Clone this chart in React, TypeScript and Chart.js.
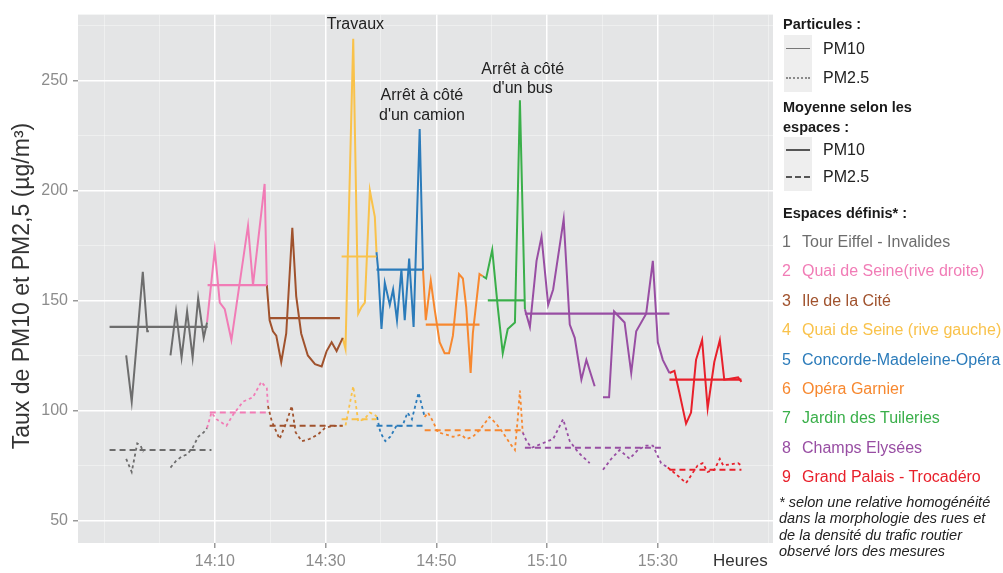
import React, { useEffect, useRef } from 'react';
import { Chart, registerables } from 'chart.js';

Chart.register(...registerables);

type P = [number, number | null];

// time = minutes after 14:00
const spaceNames = [
  'Tour Eiffel - Invalides',
  'Quai de Seine(rive droite)',
  'Ile de la Cité',
  'Quai de Seine (rive gauche)',
  'Concorde-Madeleine-Opéra',
  'Opéra Garnier',
  'Jardin des Tuileries',
  'Champs Elysées',
  'Grand Palais - Trocadéro',
];
const spaceColors = ['#6d6d6d', '#f17cb6', '#a0522d', '#f9c24b', '#2b7bba', '#f7882f', '#3aaf4a', '#984ea3', '#e8202b'];

const eiffelPM10: P[] = [[-6, 125], [-5, 104], [-3, 163], [-2.2, 136], [-1.9, 136], [0, null], [2, 125], [3, 145], [4, 124], [5, 145], [6, 124], [7, 151], [8, 133], [8.6, 140]];
const quaiDroitePM10: P[] = [[8.6, 140], [10, 173], [10.9, 149], [11.8, 146], [13, 132], [16, 184], [16.9, 157], [19, 203], [19.4, 157]];
const citePM10: P[] = [[19.4, 157], [19.9, 141], [20.5, 136], [21.1, 134], [22, 122], [22.9, 135], [24, 183], [24.7, 152], [25.6, 135], [26.8, 125], [28.1, 121], [29.3, 120], [30.2, 127], [31.1, 131], [32, 127], [33.1, 133]];
const quaiGauchePM10: P[] = [[33.1, 133], [33.6, 128], [35, 269], [35.9, 144], [36.5, 147], [37.1, 149], [38, 200], [38.9, 188], [39.2, 172]];
const concordePM10: P[] = [[39.2, 172], [39.5, 164], [40.1, 137], [40.7, 158], [41.6, 148], [42.2, 155], [42.9, 141], [43.7, 164], [44.3, 141], [45.1, 169], [45.9, 138], [47, 228], [47.6, 164]];
const garnierPM10: P[] = [[47.6, 164], [48.1, 141], [49, 159], [49.7, 146], [50.6, 131], [51.5, 126], [52.3, 126], [53, 134], [54.1, 162], [54.8, 160], [55.4, 147], [56.2, 117], [56.6, 135], [57.8, 162], [58.4, 161]];
const tuileriesPM10: P[] = [[58.4, 161], [59, 160], [60.1, 173], [61.1, 147], [62, 126], [62.9, 137], [64.2, 140], [65.1, 241], [66, 146]];
const elyseesPM10: P[] = [[66, 146], [66.9, 138], [68.1, 168], [69, 179], [70.2, 148], [71.1, 155], [73, 187], [74.1, 139], [75, 133], [76.2, 114], [77.1, 123], [78.6, 111], [79.3, null], [80.1, 106], [81.2, 106], [82.1, 145], [84, 140], [85.2, 117], [86.1, 136], [87.9, 144], [89.1, 168], [90, 131], [90.9, 123], [92.1, 117]];
const trocaderoPM10: P[] = [[92.1, 117], [93, 118], [93.9, 108], [95.1, 94], [96, 99], [96.9, 123], [98, 132], [99, 101], [100.2, 122], [101.2, 132], [102, 114], [104.5, 115], [105.1, 113]];

const eiffelPM25: P[] = [[-6, 78], [-5, 72], [-4, 85], [-3.4, 84], [-2.9, 81], [0, null], [2, 74], [3, 77], [4, 79], [5, 80], [6, 83], [7, 88], [8, 90], [8.6, 92]];
const quaiDroitePM25: P[] = [[8.6, 92], [9.4, 99], [10.3, 96], [12.1, 93], [13.3, 98], [15.1, 104], [16.9, 106], [18.4, 113], [19.4, 110], [19.6, 102]];
const citePM25: P[] = [[19.6, 102], [20.3, 95], [21.7, 87], [23, 95], [23.9, 102], [24.6, 90], [25.7, 86], [27.1, 87], [28.6, 89], [29.9, 92], [31.3, 93], [32.6, 93]];
const quaiGauchePM25: P[] = [[32.6, 93], [33.6, 93], [35, 111], [35.9, 95], [37, 96], [38, 99], [38.9, 98], [39.3, 97]];
const concordePM25: P[] = [[39.3, 97], [39.9, 90], [40.8, 86], [41.7, 88], [42.8, 93], [43.9, 93], [44.8, 99], [45.6, 96], [46.8, 108], [47.4, 102], [47.9, 97]];
const garnierPM25: P[] = [[47.9, 97], [48.5, 99], [49.4, 95], [50.3, 90], [51.8, 89], [53, 88], [54.5, 89], [55.4, 87], [56.6, 88], [57.8, 91], [59.6, 97], [60.8, 94], [62, 90], [63.3, 85], [64.2, 82], [64.7, 96], [65.1, 109], [65.6, 90]];
const tuileriesPM25: P[] = [];
const elyseesPM25: P[] = [[65.6, 90], [66.3, 86], [67.2, 83], [71.1, 87], [72.9, 96], [74.1, 86], [75.6, 81], [77.7, 76], [79, null], [80.1, 73], [81.6, 78], [83.1, 82], [84.9, 78], [86.4, 82], [87.9, 84], [89.1, 84], [90.6, 76], [91.8, 74]];
const trocaderoPM25: P[] = [[91.8, 74], [93.3, 71], [95.1, 67], [97.2, 75], [98.1, 76], [99, 72], [100.2, 73], [101.2, 78], [101.8, 75], [104.5, 76], [105.1, 75]];

const pm10Series = [eiffelPM10, quaiDroitePM10, citePM10, quaiGauchePM10, concordePM10, garnierPM10, tuileriesPM10, elyseesPM10, trocaderoPM10];
const pm25Series = [eiffelPM25, quaiDroitePM25, citePM25, quaiGauchePM25, concordePM25, garnierPM25, tuileriesPM25, elyseesPM25, trocaderoPM25];

const meanPM10 = [138, 157, 142, 170, 164, 139, 150, 144, 114];
const meanPM10Start = [-9, 8.7, 19.9, 32.9, 39.2, 48.1, 59.3, 66, 92.1];
const meanPM10End = [8.7, 19.4, 32.6, 39.2, 47.6, 57.8, 66, 92.1, 105.1];
const meanPM25 = [82, 99, 93, 96, 93, 91, null, 83, 73];
const meanPM25Start = [-9, 9.1, 19.9, 32.9, 39.2, 47.9, 59.3, 66, 92.1];
const meanPM25End = [9.4, 19.6, 33.1, 39.2, 47.9, 65.6, 66, 91.2, 105.1];

const xMajorTicks = [10, 30, 50, 70, 90];
const yMajorTicks = [50, 100, 150, 200, 250];

const notes = [
  { lines: ['Travaux'], t: 35.4, v: [275.6] },
  { lines: ['Arrêt à côté', "d'un camion"], t: 47.4, v: [243, 234] },
  { lines: ['Arrêt à côté', "d'un bus"], t: 65.6, v: [254.9, 246.5] },
];

const FONT = '"Liberation Sans", Arial, Helvetica, sans-serif';

const fmtTime = (m: number) => {
  const h = 14 + Math.floor(m / 60);
  const mm = ((m % 60) + 60) % 60;
  return `${h}:${String(mm).padStart(2, '0')}`;
};

const bgPlugin = {
  id: 'panelBg',
  beforeDraw(chart: any) {
    const { ctx, chartArea } = chart;
    ctx.save();
    ctx.fillStyle = '#e4e5e6';
    ctx.fillRect(chartArea.left, chartArea.top, chartArea.right - chartArea.left, chartArea.bottom - chartArea.top);
    ctx.restore();
  },
};

const notesPlugin = {
  id: 'notes',
  afterDatasetsDraw(chart: any) {
    const { ctx, scales } = chart;
    ctx.save();
    ctx.font = `16px ${FONT}`;
    ctx.fillStyle = '#222';
    ctx.textAlign = 'center';
    ctx.textBaseline = 'middle';
    notes.forEach((n) => {
      n.lines.forEach((line, i) => {
        ctx.fillText(line, scales.x.getPixelForValue(n.t), scales.y.getPixelForValue(n.v[i]));
      });
    });
    ctx.restore();
  },
};

const toXY = (arr: P[]) => arr.map(([x, y]) => ({ x, y }));

export default function App() {
  const ref = useRef<HTMLCanvasElement>(null);

  useEffect(() => {
    document.body.style.margin = '0';
    const datasets: any[] = [];
    spaceNames.forEach((_, i) => {
      const c = spaceColors[i];
      datasets.push({
        label: `mean10-${i}`,
        data: [{ x: meanPM10Start[i], y: meanPM10[i] }, { x: meanPM10End[i], y: meanPM10[i] }],
        borderColor: c, borderWidth: 2.2, pointRadius: 0, order: 0,
      });
      if (meanPM25[i] !== null) {
        datasets.push({
          label: `mean25-${i}`,
          data: [{ x: meanPM25Start[i], y: meanPM25[i] }, { x: meanPM25End[i], y: meanPM25[i] }],
          borderColor: c, borderWidth: 2, borderDash: [6, 4], pointRadius: 0, order: 0,
        });
      }
      datasets.push({
        label: `pm10-${i}`,
        data: toXY(pm10Series[i]),
        borderColor: c, borderWidth: 2, pointRadius: 0, order: 1,
      });
      if (pm25Series[i].length) {
        datasets.push({
          label: `pm25-${i}`,
          data: toXY(pm25Series[i]),
          borderColor: c, borderWidth: 1.8, borderDash: [3, 3], pointRadius: 0, order: 1,
        });
      }
    });

    const isMajorX = (c: any) => c.tick && xMajorTicks.includes(c.tick.value);
    const isMajorY = (c: any) => c.tick && yMajorTicks.includes(c.tick.value);

    const chart = new Chart(ref.current!, {
      type: 'line',
      data: { datasets },
      plugins: [bgPlugin, notesPlugin],
      options: {
        animation: false,
        responsive: false,
        devicePixelRatio: 1,
        spanGaps: false,
        layout: { padding: { top: 7, right: 230, bottom: 0, left: 0 } },
        plugins: { legend: { display: false }, tooltip: { enabled: false } },
        elements: { line: { tension: 0, fill: false } },
        scales: {
          x: {
            type: 'linear',
            min: -14.7,
            max: 110.8,
            afterFit: (s: any) => { s.height = 30; },
            border: { display: false },
            grid: {
              color: (c: any) => (isMajorX(c) ? '#ffffff' : 'rgba(255,255,255,0.55)'),
              lineWidth: (c: any) => (isMajorX(c) ? 1.5 : 0.7),
              tickColor: (c: any) => (isMajorX(c) ? '#9a9a9a' : 'rgba(0,0,0,0)'),
              tickLength: 5,
            },
            ticks: {
              stepSize: 10,
              includeBounds: false,
              autoSkip: false,
              maxRotation: 0,
              padding: 4,
              color: '#8c8c8c',
              font: { family: FONT, size: 16 },
              callback: (v: any) => (xMajorTicks.includes(Number(v)) ? fmtTime(Number(v)) : ''),
            },
          },
          y: {
            type: 'linear',
            min: 39.7,
            max: 280,
            afterFit: (s: any) => { s.width = 78; },
            border: { display: false },
            grid: {
              color: (c: any) => (isMajorY(c) ? '#ffffff' : 'rgba(255,255,255,0.55)'),
              lineWidth: (c: any) => (isMajorY(c) ? 1.5 : 0.7),
              tickColor: (c: any) => (isMajorY(c) ? '#9a9a9a' : 'rgba(0,0,0,0)'),
              tickLength: 5,
            },
            ticks: {
              stepSize: 25,
              includeBounds: false,
              autoSkip: false,
              padding: 5,
              color: '#8c8c8c',
              font: { family: FONT, size: 16 },
              callback: (v: any) => (yMajorTicks.includes(Number(v)) ? String(v) : ''),
            },
          },
        },
      } as any,
    });
    return () => chart.destroy();
  }, []);

  const abs = (left: number, cy: number, extra: React.CSSProperties = {}): React.CSSProperties => ({
    position: 'absolute', left, top: cy - 10, height: 20, lineHeight: '20px', whiteSpace: 'nowrap', ...extra,
  });
  const bold: React.CSSProperties = { fontWeight: 'bold', fontSize: 14.5, color: '#1a1a1a' };
  const item: React.CSSProperties = { fontSize: 16 };
  const itemY = [242, 271.4, 300.8, 330.2, 359.6, 389, 418.4, 447.8, 477.2];
  const foot = ['* selon une relative homogénéité', 'dans la morphologie des rues et', 'de la densité du trafic routier', 'observé lors des mesures'];

  return (
    <div style={{ position: 'relative', width: 1003, height: 573, fontFamily: FONT, background: '#fff', overflow: 'hidden' }}>
      <canvas ref={ref} width={1003} height={573} style={{ position: 'absolute', left: 0, top: 0, width: 1003, height: 573 }} />
      <div
        style={{
          position: 'absolute', left: 21 - 200, top: 286 - 14, width: 400, height: 28, lineHeight: '28px',
          textAlign: 'center', fontSize: 23, color: '#333', transform: 'rotate(-90deg)', whiteSpace: 'nowrap',
        }}
      >
        Taux de PM10 et PM2,5 (µg/m³)
      </div>
      <div style={abs(713, 561, { fontSize: 17, color: '#333' })}>Heures</div>

      <div style={abs(783, 24, bold)}>Particules :</div>
      <div style={{ position: 'absolute', left: 784, top: 35, width: 28, height: 57, background: '#eeeeee' }} />
      <div style={{ position: 'absolute', left: 786, width: 24, top: 48, borderTop: '1.5px solid #777' }} />
      <div style={{ position: 'absolute', left: 786, width: 24, top: 77, borderTop: '2px dotted #8a8a8a' }} />
      <div style={abs(823, 49, { ...item, color: '#222' })}>PM10</div>
      <div style={abs(823, 78, { ...item, color: '#222' })}>PM2.5</div>

      <div style={abs(783, 107, bold)}>Moyenne selon les</div>
      <div style={abs(783, 127, bold)}>espaces :</div>
      <div style={{ position: 'absolute', left: 784, top: 137, width: 28, height: 54, background: '#eeeeee' }} />
      <div style={{ position: 'absolute', left: 786, width: 24, top: 149, borderTop: '2px solid #555' }} />
      <div style={{ position: 'absolute', left: 786, width: 24, top: 176, borderTop: '2px dashed #555' }} />
      <div style={abs(823, 150, { ...item, color: '#222' })}>PM10</div>
      <div style={abs(823, 177, { ...item, color: '#222' })}>PM2.5</div>

      <div style={abs(783, 213, bold)}>Espaces définis* :</div>
      {spaceNames.map((n, i) => (
        <React.Fragment key={n}>
          <div style={abs(782, itemY[i], { ...item, color: spaceColors[i] })}>{i + 1}</div>
          <div style={abs(802, itemY[i], { ...item, color: spaceColors[i] })}>{n}</div>
        </React.Fragment>
      ))}
      {foot.map((l, i) => (
        <div key={l} style={abs(779, 502 + i * 16.4, { fontSize: 14.5, fontStyle: 'italic', color: '#222' })}>{l}</div>
      ))}
    </div>
  );
}
